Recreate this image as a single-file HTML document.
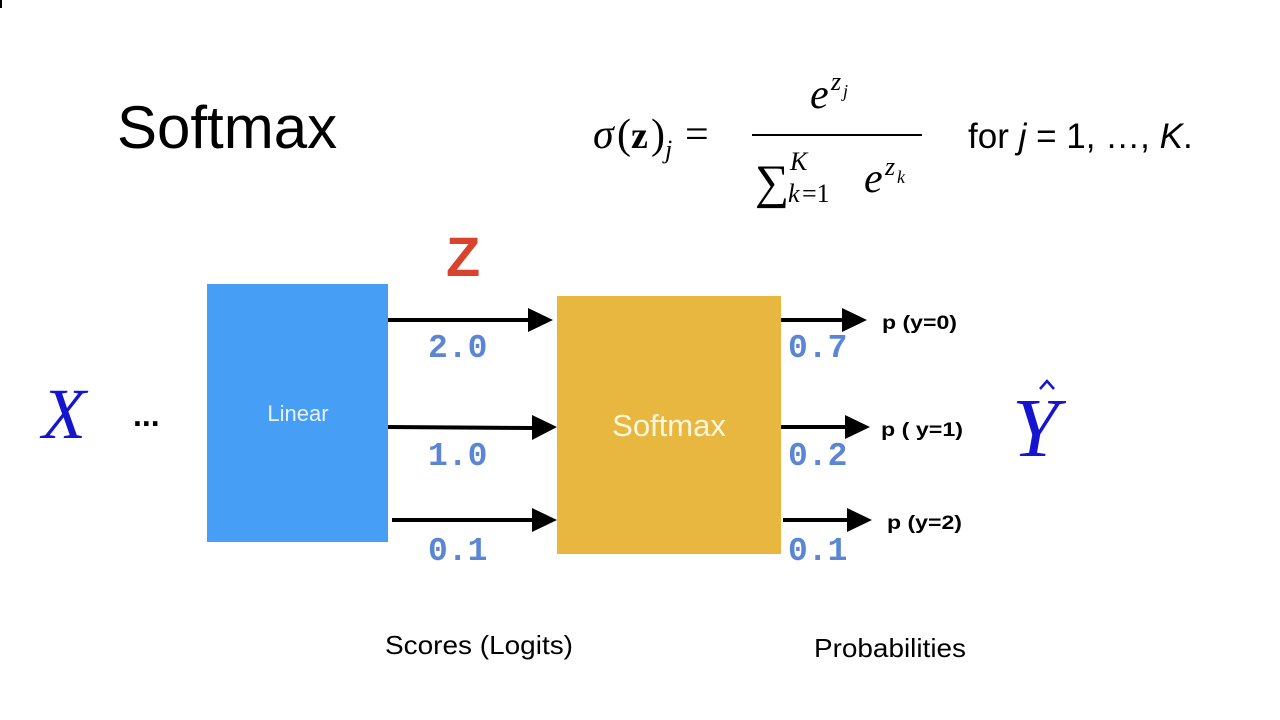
<!DOCTYPE html>
<html><head><meta charset="utf-8"><style>
html,body{margin:0;padding:0;background:#fff;width:1280px;height:720px;overflow:hidden}
svg{display:block}
.mono{font-family:"Liberation Mono",monospace;font-weight:bold;font-size:33px;fill:#5b86d6}
.pl{font-family:"Liberation Sans",sans-serif;font-weight:bold;font-size:19px;fill:#000}
</style></head><body>
<svg width="1280" height="720" viewBox="0 0 1280 720">
<rect x="0" y="0" width="2" height="8" fill="#000"/>
<text x="117" y="148" font-family="Liberation Sans,sans-serif" font-size="60" fill="#000">Softmax</text>
<g font-family="Liberation Serif,serif">
<text x="593" y="148" font-size="42" font-style="italic">σ</text>
<text x="617" y="148" font-size="42">(</text>
<text x="631" y="148" font-size="38" font-weight="bold">z</text>
<text x="651" y="148" font-size="42">)</text>
<text x="665" y="158" font-size="26" font-style="italic">j</text>
<text x="685" y="148" font-size="42">=</text>
<text x="810" y="108" font-size="42" font-style="italic">e</text>
<text x="831" y="90" font-size="26" font-style="italic">z</text>
<text x="843" y="97" font-size="18" font-style="italic">j</text>
<rect x="752" y="134" width="170" height="2" fill="#000"/>
<text x="755" y="198" font-size="48">∑</text>
<text x="790" y="170" font-size="26" font-style="italic">K</text>
<text x="788" y="202" font-size="26" font-style="italic">k</text>
<text x="802" y="202" font-size="26">=1</text>
<text x="864" y="192" font-size="42" font-style="italic">e</text>
<text x="885" y="175" font-size="26" font-style="italic">z</text>
<text x="897" y="183" font-size="18" font-style="italic">k</text>
<text x="968" y="148" font-size="35" font-family="Liberation Sans,sans-serif">for <tspan font-style="italic">j</tspan> = 1, …, <tspan font-style="italic">K</tspan>.</text>
</g>
<text x="446" y="276" font-family="Liberation Sans,sans-serif" font-weight="bold" font-size="56" fill="#d9432e">Z</text>
<text x="42" y="438" font-family="Liberation Serif,serif" font-style="italic" font-size="72" fill="#1515d0">X</text>
<text x="133" y="426" font-family="Liberation Sans,sans-serif" font-weight="bold" font-size="32" fill="#000">...</text>
<rect x="207" y="284" width="181" height="258" fill="#479ef5"/>
<text x="298" y="421" text-anchor="middle" font-family="Liberation Sans,sans-serif" font-size="22" fill="#e8f2ff">Linear</text>
<rect x="557" y="296" width="224" height="258" fill="#e8b73f"/>
<text x="669" y="436" text-anchor="middle" font-family="Liberation Sans,sans-serif" font-size="31" fill="#fff6de">Softmax</text>
<g stroke="#000" stroke-width="4">
<line x1="388" y1="320" x2="530" y2="320"/><line x1="388" y1="427" x2="534" y2="428"/><line x1="392" y1="520" x2="534" y2="520"/>
<line x1="781" y1="320" x2="845" y2="320"/><line x1="781" y1="427" x2="848" y2="427"/><line x1="783" y1="520" x2="850" y2="520"/>
</g>
<g fill="#000">
<polygon points="528,308 553,320 528,332"/><polygon points="532,415 557,427 532,440"/><polygon points="532,508 557,520 532,532"/>
<polygon points="842,308 867,320 842,332"/><polygon points="845,415 870,427 845,439"/><polygon points="847,508 872,520 847,532"/>
</g>
<text x="428" y="357" class="mono">2.0</text>
<text x="428" y="465" class="mono">1.0</text>
<text x="428" y="560" class="mono">0.1</text>
<text x="788" y="357" class="mono">0.7</text>
<text x="788" y="465" class="mono">0.2</text>
<text x="788" y="560" class="mono">0.1</text>
<text x="882" y="329" textLength="75" lengthAdjust="spacingAndGlyphs" class="pl">p (y=0)</text>
<text x="881" y="436" textLength="82" lengthAdjust="spacingAndGlyphs" class="pl">p ( y=1)</text>
<text x="887" y="529" textLength="75" lengthAdjust="spacingAndGlyphs" class="pl">p (y=2)</text>
<g>
<text x="1012" y="456" font-family="Liberation Serif,serif" font-style="italic" font-size="84" fill="#1515d0">Y</text>
<polyline points="1040,389 1047,381 1054,389" fill="none" stroke="#1515d0" stroke-width="2.5"/>
</g>
<text x="385" y="654" textLength="188" lengthAdjust="spacingAndGlyphs" font-family="Liberation Sans,sans-serif" font-size="26" fill="#000">Scores (Logits)</text>
<text x="814" y="657" textLength="152" lengthAdjust="spacingAndGlyphs" font-family="Liberation Sans,sans-serif" font-size="26" fill="#000">Probabilities</text>
</svg>
</body></html>
